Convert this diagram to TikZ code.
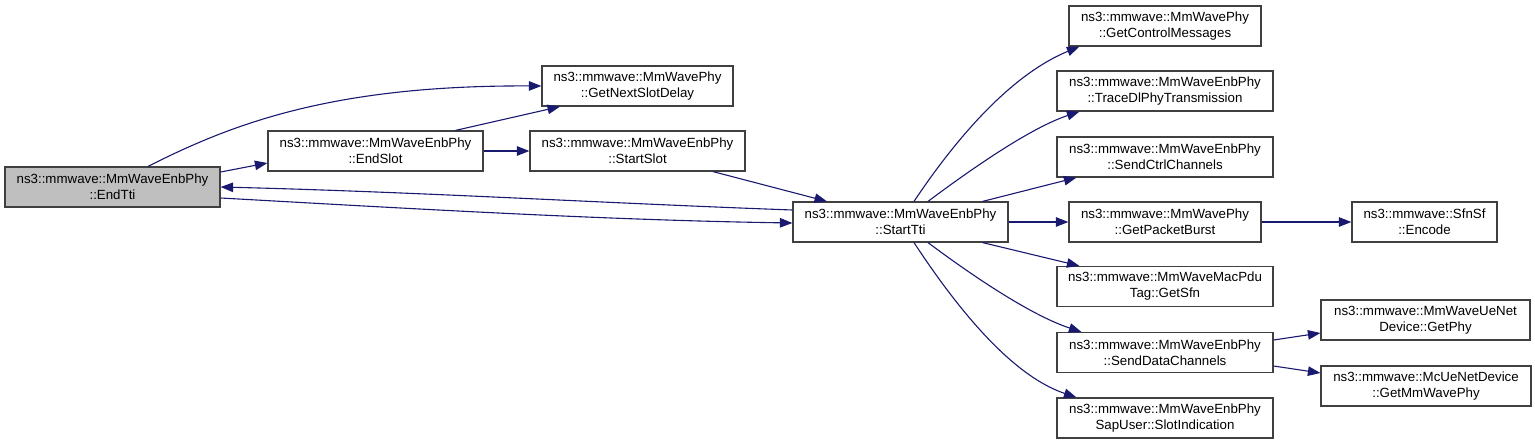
\documentclass[tikz,border=0pt]{standalone}
\usepackage{fontspec}
\setmainfont{Liberation Sans}
\usetikzlibrary{arrows.meta}
\definecolor{edgeblue}{HTML}{191970}
\definecolor{boxgray}{HTML}{BFBFBF}
\definecolor{boxline}{HTML}{404040}
\tikzset{
    funcbox/.style={
        draw=boxline,
        fill=white,
        line width=1.2pt,
        inner sep=0pt,
        align=center,
        minimum height=40pt,
        font=\fontsize{13.3}{16}\selectfont
    },
    % the function the graph is drawn for
    curfunc/.style={
        funcbox,
        fill=boxgray
    },
    callarrow/.style={
        line width=1.1pt,
        edgeblue,
        ->,
        >={Triangle[length=12.5pt, width=9.5pt]}
    }
}

\begin{document}
\begin{tikzpicture}[x=1pt,y=-1pt]
    \useasboundingbox (0,0) rectangle (1535,444);
    \node[curfunc, minimum width=215pt] (endtti) at (112.5,187) {ns3::mmwave::MmWaveEnbPhy\\::EndTti};
    \node[funcbox, minimum width=215pt] (endslot) at (375.5,151) {ns3::mmwave::MmWaveEnbPhy\\::EndSlot};
    \node[funcbox, minimum width=191pt] (gnsd) at (637.5,86) {ns3::mmwave::MmWavePhy\\::GetNextSlotDelay};
    \node[funcbox, minimum width=215pt] (startslot) at (637.5,151) {ns3::mmwave::MmWaveEnbPhy\\::StartSlot};
    \node[funcbox, minimum width=215pt] (starttti) at (900.5,222) {ns3::mmwave::MmWaveEnbPhy\\::StartTti};
    \node[funcbox, minimum width=192pt] (gcm) at (1165,26) {ns3::mmwave::MmWavePhy\\::GetControlMessages};
    \node[funcbox, minimum width=216pt] (tdl) at (1165,91) {ns3::mmwave::MmWaveEnbPhy\\::TraceDlPhyTransmission};
    \node[funcbox, minimum width=216pt] (sctrl) at (1165,157) {ns3::mmwave::MmWaveEnbPhy\\::SendCtrlChannels};
    \node[funcbox, minimum width=192pt] (gpb) at (1165,222) {ns3::mmwave::MmWavePhy\\::GetPacketBurst};
    \node[funcbox, minimum width=145pt] (encode) at (1424.5,222) {ns3::mmwave::SfnSf\\::Encode};
    \node[funcbox, minimum width=216pt] (sfn) at (1165,286.5) {ns3::mmwave::MmWaveMacPdu\\Tag::GetSfn};
    \node[funcbox, minimum width=216pt] (sdc) at (1165,352.5) {ns3::mmwave::MmWaveEnbPhy\\::SendDataChannels};
    \node[funcbox, minimum width=216pt] (sind) at (1165,418) {ns3::mmwave::MmWaveEnbPhy\\SapUser::SlotIndication};
    \node[funcbox, minimum width=209pt] (gphy) at (1425.5,320) {ns3::mmwave::MmWaveUeNet\\Device::GetPhy};
    \node[funcbox, minimum width=210pt] (mcue) at (1426,386) {ns3::mmwave::McUeNetDevice\\::GetMmWavePhy};

    \draw[callarrow] ([xshift=35.5pt]endtti.north) .. controls (230,125) and (330,85) .. (gnsd.west);
    \draw[callarrow] ([yshift=15pt]endtti.east) -- ([yshift=-12pt]endslot.west);
    \draw[callarrow] ([xshift=80pt]endslot.north) -- ([xshift=-77.5pt]gnsd.south);
    \draw[callarrow] (endslot.east) -- (startslot.west);
    \draw[callarrow] ([xshift=75.5pt]startslot.south) -- ([xshift=-73.5pt]starttti.north);
    \draw[callarrow] ([yshift=12pt]starttti.west) .. controls (600,203) and (420,192) .. (endtti.east);
    \draw[callarrow] ([yshift=-11pt]endtti.east) .. controls (400,208) and (600,220) .. ([yshift=-1pt]starttti.west);

    \draw[callarrow] ([xshift=13.5pt]starttti.north) .. controls (955,140) and (1010,75) .. ([xshift=11pt]gcm.south west);
    \draw[callarrow] ([xshift=27.5pt]starttti.north) .. controls (970,170) and (1030,128) .. ([xshift=23pt]tdl.south west);
    \draw[callarrow] ([xshift=-26pt]starttti.north east) -- ([xshift=20pt]sctrl.south west);
    \draw[callarrow] (starttti.east) -- (gpb.west);
    \draw[callarrow] (gpb.east) -- (encode.west);
    \draw[callarrow] ([xshift=-26pt]starttti.south east) -- ([xshift=23pt]sfn.north west);
    \draw[callarrow] ([xshift=27.5pt]starttti.south) .. controls (970,274) and (1030,315) .. ([xshift=25pt]sdc.north west);
    \draw[callarrow] ([xshift=13.5pt]starttti.south) .. controls (955,305) and (1010,375) .. ([xshift=20pt]sind.north west);
    \draw[callarrow] ([yshift=12.5pt]sdc.east) -- ([yshift=-13pt]gphy.west);
    \draw[callarrow] ([yshift=-13.5pt]sdc.east) -- ([yshift=13pt]mcue.west);
\end{tikzpicture}
\end{document}
